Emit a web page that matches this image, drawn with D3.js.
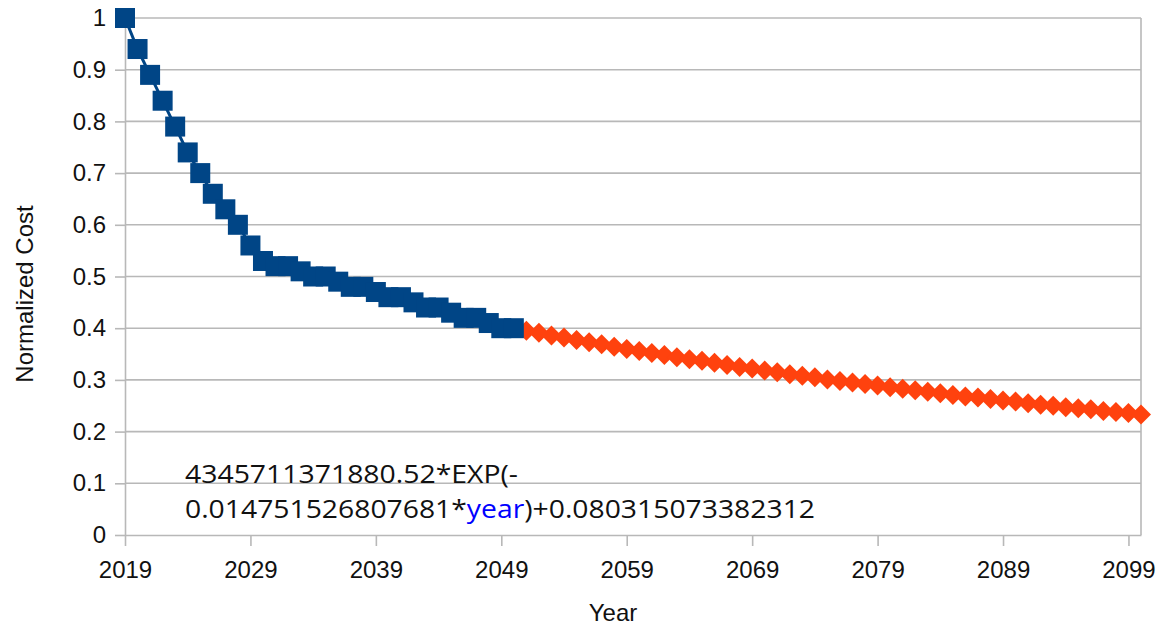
<!DOCTYPE html>
<html>
<head>
<meta charset="utf-8">
<script src="https://cdn.jsdelivr.net/npm/d3@7"></script>
<style>
  body { margin: 0; background: #fff; }
  svg { display: block; background: #fff; }
  .tick text, .axis-title { font-family: "Liberation Sans", Arial, sans-serif; font-size: 24px; fill: #111; }
  .fit-label { font-family: "Open Sans", "Noto Sans", sans-serif; font-size: 25px; fill: #111; }
</style>
</head>
<body>
<svg id="chart" width="1172" height="628"></svg>
<script>
// measured cost, normalized to 2019 (blue squares)
const histYears = [2019, 2020, 2021, 2022, 2023, 2024, 2025, 2026, 2027, 2028,
    2029, 2030, 2031, 2032, 2033, 2034, 2035, 2036, 2037, 2038,
    2039, 2040, 2041, 2042, 2043, 2044, 2045, 2046, 2047, 2048, 2049, 2050];
const histCost = [1.00, 0.94, 0.89, 0.84, 0.79, 0.74, 0.70, 0.66, 0.63, 0.60,
    0.56, 0.53, 0.52, 0.52, 0.51, 0.50, 0.50, 0.49, 0.48, 0.48,
    0.47, 0.46, 0.46, 0.45, 0.44, 0.44, 0.43, 0.42, 0.42, 0.41, 0.40, 0.40];

// extrapolated cost (orange diamonds)
const fitYears = [2051, 2052, 2053, 2054, 2055, 2056, 2057, 2058, 2059, 2060,
    2061, 2062, 2063, 2064, 2065, 2066, 2067, 2068, 2069, 2070,
    2071, 2072, 2073, 2074, 2075, 2076, 2077, 2078, 2079, 2080,
    2081, 2082, 2083, 2084, 2085, 2086, 2087, 2088, 2089, 2090,
    2091, 2092, 2093, 2094, 2095, 2096, 2097, 2098, 2099, 2100];
const fitCost = [0.395, 0.391, 0.386, 0.382, 0.377, 0.373, 0.369, 0.364, 0.360, 0.356,
    0.352, 0.348, 0.344, 0.340, 0.337, 0.333, 0.329, 0.325, 0.322, 0.318,
    0.315, 0.311, 0.308, 0.305, 0.301, 0.298, 0.295, 0.292, 0.289, 0.286,
    0.283, 0.280, 0.277, 0.274, 0.271, 0.268, 0.266, 0.263, 0.260, 0.258,
    0.255, 0.252, 0.250, 0.247, 0.245, 0.243, 0.240, 0.238, 0.236, 0.233];

const xTicks = [2019, 2029, 2039, 2049, 2059, 2069, 2079, 2089, 2099];
const yTicks = [0, 0.1, 0.2, 0.3, 0.4, 0.5, 0.6, 0.7, 0.8, 0.9, 1];
const yTickLabels = ["0", "0.1", "0.2", "0.3", "0.4", "0.5", "0.6", "0.7", "0.8", "0.9", "1"];

const fitLine1 = "4345711371880.52*EXP(-";
const fitLine2 = ["0.014751526807681*", "year", ")+0.080315073382312"];

const margin = { top: 18, right: 31, bottom: 93, left: 125 };
const width = 1172 - margin.left - margin.right;
const height = 628 - margin.top - margin.bottom;
const gridColor = "#b8b8b8";

const svg = d3.select("#chart");
const g = svg.append("g").attr("transform", `translate(${margin.left},${margin.top})`);

const x = d3.scaleLinear().domain([2019, 2100]).range([0, width]);
const y = d3.scaleLinear().domain([0, 1]).range([height, 0]);

// horizontal gridlines
g.append("g")
    .selectAll("line")
    .data(yTicks.filter(d => d > 0))
    .join("line")
    .attr("x1", 0)
    .attr("x2", width)
    .attr("y1", d => y(d))
    .attr("y2", d => y(d))
    .attr("stroke", gridColor)
    .attr("stroke-width", 1.6);

// right border of the plot
g.append("line")
    .attr("x1", width).attr("x2", width)
    .attr("y1", 0).attr("y2", height)
    .attr("stroke", gridColor)
    .attr("stroke-width", 1.6);

// axes
const xAxis = g.append("g")
    .attr("transform", `translate(0,${height})`)
    .call(d3.axisBottom(x).tickValues(xTicks).tickSize(11).tickSizeOuter(0).tickPadding(15).tickFormat(d3.format("d")));

const yAxis = g.append("g")
    .call(d3.axisLeft(y).tickValues(yTicks).tickSize(10).tickSizeOuter(0).tickPadding(9).tickFormat((d, i) => yTickLabels[i]));

[xAxis, yAxis].forEach(ax => {
    ax.selectAll("path, line").attr("stroke", gridColor).attr("stroke-width", 1.6);
    ax.attr("font-family", null).attr("font-size", null);
});

// series
const histData = histYears.map((yr, i) => ({ year: yr, cost: histCost[i] }));
const fitData = fitYears.map((yr, i) => ({ year: yr, cost: fitCost[i] }));

const line = d3.line().x(d => x(d.year)).y(d => y(d.cost));

g.append("path")
    .datum(fitData)
    .attr("d", line)
    .attr("fill", "none")
    .attr("stroke", "#ff420e")
    .attr("stroke-width", 3);

g.append("g")
    .selectAll("path")
    .data(fitData)
    .join("path")
    .attr("transform", d => `translate(${x(d.year)},${y(d.cost)})`)
    .attr("d", "M0,-10L10,0L0,10L-10,0Z")
    .attr("fill", "#ff420e");

g.append("path")
    .datum(histData)
    .attr("d", line)
    .attr("fill", "none")
    .attr("stroke", "#004586")
    .attr("stroke-width", 3);

g.append("g")
    .selectAll("rect")
    .data(histData)
    .join("rect")
    .attr("x", d => x(d.year) - 10)
    .attr("y", d => y(d.cost) - 10)
    .attr("width", 20)
    .attr("height", 20)
    .attr("fill", "#004586");

// fit equation label
svg.append("text")
    .attr("class", "fit-label")
    .attr("x", 185)
    .attr("y", 483)
    .attr("textLength", 333)
    .attr("lengthAdjust", "spacingAndGlyphs")
    .text(fitLine1);

const l2 = svg.append("text")
    .attr("class", "fit-label")
    .attr("x", 185)
    .attr("y", 518)
    .attr("textLength", 630)
    .attr("lengthAdjust", "spacingAndGlyphs");
l2.append("tspan").text(fitLine2[0]);
l2.append("tspan").attr("fill", "#0000ff").text(fitLine2[1]);
l2.append("tspan").text(fitLine2[2]);

// axis titles
svg.append("text")
    .attr("class", "axis-title")
    .attr("transform", "translate(33,294) rotate(-90)")
    .attr("text-anchor", "middle")
    .text("Normalized Cost");

svg.append("text")
    .attr("class", "axis-title")
    .attr("x", 613)
    .attr("y", 621)
    .attr("text-anchor", "middle")
    .text("Year");
</script>
</body>
</html>
